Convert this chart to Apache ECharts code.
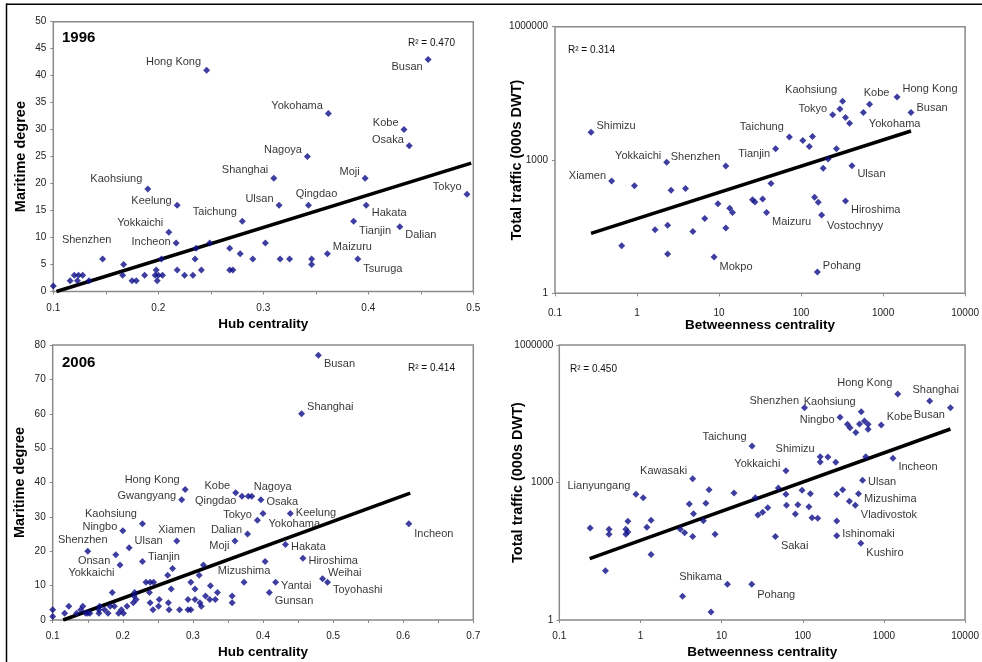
<!DOCTYPE html>
<html>
<head>
<meta charset="utf-8">
<script src="https://cdn.jsdelivr.net/npm/echarts@6/dist/echarts.min.js"></script>
<style>
html,body{margin:0;padding:0;background:#fff;}
#chart{width:982px;height:662px;}
</style>
</head>
<body>
<div id="chart"></div>
<script>
// ---------- Panel 1: 1996, Hub centrality vs Maritime degree ----------
const p1Names = ['Hong Kong','Busan','Yokohama','Kobe','Osaka','Nagoya','Shanghai','Moji','Kaohsiung','Keelung','Tokyo','Ulsan','Qingdao','Taichung','Hakata','Yokkaichi','Tianjin','Incheon','Dalian','Shenzhen','Maizuru','Tsuruga'];
const p1X = [0.246,0.457,0.362,0.434,0.439,0.342,0.310,0.397,0.190,0.218,0.494,0.315,0.343,0.280,0.398,0.210,0.386,0.217,0.430,0.147,0.361,0.390];
const p1Y = [41,43,33,30,27,25,21,21,19,16,18,16,16,13,16,11,13,9,12,6,7,6];
const p1OtherX = [0.100,0.116,0.120,0.124,0.123,0.128,0.134,0.167,0.166,0.175,0.179,0.187,0.197,0.200,0.204,0.199,0.198,0.203,0.218,0.225,0.233,0.235,0.241,0.236,0.249,0.268,0.271,0.268,0.278,0.290,0.302,0.316,0.325,0.346,0.346];
const p1OtherY = [1,2,3,3,2,3,2,5,3,2,2,3,3,3,3,2,4,6,4,3,3,6,4,8,9,4,4,8,7,6,9,6,6,6,5];
const p1TrendX = [0.103,0.498];
const p1TrendY = [0,23.8];
const p1R2 = 'R² = 0.470';
const p1Year = '1996';

// ---------- Panel 2: 1996, Betweenness centrality vs Total traffic ----------
const p2Names = ['Shimizu','Xiamen','Yokkaichi','Shenzhen','Mokpo','Kaohsiung','Tokyo','Kobe','Hong Kong','Busan','Yokohama','Taichung','Tianjin','Ulsan','Maizuru','Hiroshima','Vostochnyy','Pohang'];
const p2X = [0.275,0.49,2.3,12.1,8.7,321,243,684,1480,2190,575,72,49,417,38,348,178,158];
const p2Y = [4200,337,890,735,6.6,21000,10500,17900,26300,11700,11700,3300,1780,745,66,120,58,3.0];
const p2OtherX = [0.93,2.6,3.9,9.7,13.5,14.6,6.7,1.66,2.36,4.8,12.1,0.65,2.36,298,348,390,105,138,126,270,214,186,43,25.6,27.4,34,146,162];
const p2OtherY = [265,208,229,104,82,66,48,27,34,24.5,29.5,11.8,7.7,14000,9100,6700,2740,3370,2000,1780,1050,650,295,128,114,133,145,112];
const p2TrendX = [0.275,2190];
const p2TrendY = [22.4,4500];
const p2R2 = 'R² = 0.314';

// ---------- Panel 3: 2006, Hub centrality vs Maritime degree ----------
const p3Names = ['Busan','Shanghai','Hong Kong','Gwangyang','Kobe','Nagoya','Qingdao','Osaka','Tokyo','Yokohama','Keelung','Dalian','Moji','Xiamen','Kaohsiung','Ningbo','Ulsan','Shenzhen','Onsan','Yokkaichi','Tianjin','Mizushima','Hakata','Hiroshima','Weihai','Toyohashi','Yantai','Gunsan','Incheon'];
const p3X = [0.479,0.455,0.289,0.284,0.361,0.379,0.370,0.397,0.392,0.400,0.439,0.378,0.360,0.277,0.228,0.200,0.209,0.150,0.190,0.196,0.228,0.373,0.432,0.457,0.485,0.492,0.418,0.409,0.608];
const p3Y = [77,60,38,35,37,36,36,35,29,31,31,25,23,23,28,26,21,20,19,16,17,11,22,18,12,11,11,8,28];
const p3OtherX = [0.100,0.100,0.117,0.123,0.134,0.140,0.143,0.147,0.150,0.153,0.166,0.166,0.167,0.174,0.179,0.182,0.185,0.188,0.194,0.198,0.201,0.206,0.215,0.216,0.217,0.219,0.233,0.239,0.238,0.244,0.239,0.243,0.252,0.251,0.264,0.271,0.269,0.265,0.266,0.281,0.293,0.297,0.303,0.293,0.297,0.303,0.309,0.310,0.312,0.315,0.318,0.325,0.324,0.332,0.335,0.356,0.356,0.384,0.403];
const p3OtherY = [3,1,2,4,2,3,4,2,2,2,3,2,4,3,2,4,8,4,2,3,2,4,5,7,8,6,11,11,8,11,5,3,6,4,13,15,9,5,3,3,6,11,9,3,3,6,13,5,4,16,7,10,6,6,8,7,5,36,17];
const p3TrendX = [0.115,0.610];
const p3TrendY = [0,36.9];
const p3R2 = 'R² = 0.414';
const p3Year = '2006';

// ---------- Panel 4: 2006, Betweenness centrality vs Total traffic ----------
const p4Names = ['Hong Kong','Shanghai','Busan','Shenzhen','Kaohsiung','Ningbo','Kobe','Taichung','Shimizu','Incheon','Yokkaichi','Kawasaki','Lianyungang','Ulsan','Mizushima','Vladivostok','Ishinomaki','Kushiro','Sakai','Shikama','Pohang'];
const p4X = [1480,3660,6600,105,525,288,927,23.7,164,1290,62,4.4,0.88,545,486,444,262,519,46,11.8,23.5];
const p4Y = [85500,60000,43000,43000,35100,26400,18000,6250,3660,3370,1810,1212,552,1115,570,318,69,47,66,6.0,6.0];
const p4OtherX = [0.24,0.37,0.41,0.41,0.66,0.66,0.70,0.70,1.08,1.2,1.35,1.35,4.0,4.5,3.1,3.5,4.4,5.96,6.4,7.0,8.3,14.2,3.3,7.4,355,382,500,450,575,638,638,204,164,255,597,50,26,62,98,124,310,262,375,63,87,119,81,37,32,28,130,153,262];
const p4OtherY = [102,11.9,95,74,95,74,142,83,467,105,151,27,340,209,95,80,66,147,351,698,74,590,3.3,1.5,18600,15700,18900,12400,22000,18600,14500,3600,2800,2750,3660,760,467,552,676,570,698,552,388,318,328,297,206,282,223,195,171,165,145];
const p4TrendX = [0.237,6600];
const p4TrendY = [21.8,14700];
const p4R2 = 'R² = 0.450';

// ---------- axis texts ----------
const hubTitle = 'Hub centrality';
const betTitle = 'Betweenness centrality';
const degTitle = 'Maritime degree';
const trafTitle = 'Total traffic (000s DWT)';

// ---------- label placement (style only) ----------
const p1Place = {'Hong Kong':['left',0,-8],Busan:['left',0,7],Yokohama:['left',0,-7],Kobe:['left',0,-7],Osaka:['left',0,-6],Nagoya:['left',0,-7],Shanghai:['left',0,-8],Moji:['left',0,-6],Kaohsiung:['left',0,-10],Keelung:['left',0,-4],Tokyo:['left',0,-7],Ulsan:['left',0,-6],Qingdao:['top',8,0],Taichung:['left',0,-9],Hakata:['right',0,8],Yokkaichi:['left',0,-9],Tianjin:['right',0,10],Incheon:['left',0,-1],Dalian:['right',0,8],Shenzhen:['top',-16,-8],Maizuru:['right',0,-7],Tsuruga:['right',0,10]};
const p2Place = {Shimizu:['right',0,-6],Xiamen:['left',0,-5],Yokkaichi:['left',0,-6],Shenzhen:['left',0,-9],Mokpo:['right',0,10],Kaohsiung:['left',0,-11],Tokyo:['left',0,-6],Kobe:['top',7,0],'Hong Kong':['right',0,-8],Busan:['right',0,-5],Yokohama:['right',0,11],Taichung:['left',0,-10],Tianjin:['left',0,5],Ulsan:['right',0,8],Maizuru:['right',0,10],Hiroshima:['right',0,9],Vostochnyy:['right',0,11],Pohang:['right',0,-6]};
const p3Place = {Busan:['right',0,9],Shanghai:['right',0,-7],'Hong Kong':['left',0,-9],Gwangyang:['left',0,-4],Kobe:['left',0,-7],Nagoya:['right',0,-9],Qingdao:['left',0,5],Osaka:['right',0,2],Tokyo:['left',0,-5],Yokohama:['right',0,11],Keelung:['right',0,0],Dalian:['left',0,-4],Moji:['left',0,5],Xiamen:['top',0,0],Kaohsiung:['left',0,-10],Ningbo:['left',0,-4],Ulsan:['right',0,-7],Shenzhen:['top',-5,0],Onsan:['left',0,6],Yokkaichi:['left',0,8],Tianjin:['right',0,-5],Mizushima:['top',0,0],Hakata:['right',0,3],Hiroshima:['right',0,3],Weihai:['right',0,-6],Toyohashi:['right',0,8],Yantai:['right',0,4],Gunsan:['right',0,8],Incheon:['right',0,10]};
const p4Place = {Lianyungang:['left',0,-8],Kawasaki:['left',0,-8],Shikama:['left',0,-7],Taichung:['left',0,-9],Yokkaichi:['left',0,-7],Shimizu:['left',0,-8],Shenzhen:['left',0,-7],Kaohsiung:['left',0,-10],Ningbo:['left',0,3],'Hong Kong':['left',0,-11],Shanghai:['top',6,0],Busan:['left',0,7],Kobe:['right',0,-8],Incheon:['right',0,9],Ulsan:['right',0,2],Mizushima:['right',0,5],Vladivostok:['right',0,10],Ishinomaki:['right',0,-2],Kushiro:['right',0,10],Sakai:['right',0,9],Pohang:['right',0,11]};

const FONT = '"Liberation Sans", Arial, sans-serif';
const DOT = '#0e0e88';
const FRAME = '#8a8a8a';

function labeled(names, xs, ys, place) {
  return names.map(function (n, i) {
    const p = place[n] || ['right', 0, 0];
    return { name: n, value: [xs[i], ys[i]], label: { show: true, position: p[0], offset: [p[1], p[2]], distance: 2 } };
  });
}
function pts(xs, ys) { return xs.map(function (x, i) { return [x, ys[i]]; }); }

function fmt(v) { return String(+Number(v).toPrecision(6)); }

function valueX(idx, min, max, interval, title, gap, margin) {
  return { type: 'value', gridIndex: idx, min: min, max: max, interval: interval,
    name: title, nameLocation: 'middle', nameGap: gap, nameMoveOverlap: false,
    nameTextStyle: { fontFamily: FONT, fontWeight: 'bold', fontSize: 13.5, color: '#000' },
    axisLine: { show: false }, splitLine: { show: false },
    axisTick: { show: true, length: 3, lineStyle: { color: FRAME } },
    minorTick: { show: true, splitNumber: 2, length: 3, lineStyle: { color: FRAME } },
    axisLabel: { fontFamily: FONT, fontSize: 10, color: '#222', margin: margin, formatter: fmt } };
}
function valueY(idx, min, max, interval, title, gap) {
  return { type: 'value', gridIndex: idx, min: min, max: max, interval: interval,
    name: title, nameLocation: 'middle', nameGap: gap, nameMoveOverlap: false,
    nameTextStyle: { fontFamily: FONT, fontWeight: 'bold', fontSize: 14.5, color: '#000' },
    axisLine: { show: false }, splitLine: { show: false },
    axisTick: { show: true, length: 3, lineStyle: { color: FRAME } },
    axisLabel: { fontFamily: FONT, fontSize: 10, color: '#222', margin: 7, formatter: fmt } };
}
function logX(idx, title, gap, margin) {
  return { type: 'log', logBase: 10, gridIndex: idx, min: 0.1, max: 10000,
    name: title, nameLocation: 'middle', nameGap: gap, nameMoveOverlap: false,
    nameTextStyle: { fontFamily: FONT, fontWeight: 'bold', fontSize: 13.5, color: '#000' },
    axisLine: { show: false }, splitLine: { show: false },
    axisTick: { show: true, length: 3, lineStyle: { color: FRAME } },
    axisLabel: { fontFamily: FONT, fontSize: 10, color: '#222', margin: margin, formatter: fmt } };
}
function logY(idx, title, gap, margin) {
  return { type: 'log', logBase: 1000, gridIndex: idx, min: 1, max: 1000000,
    name: title, nameLocation: 'middle', nameGap: gap, nameMoveOverlap: false,
    nameTextStyle: { fontFamily: FONT, fontWeight: 'bold', fontSize: 14.5, color: '#000' },
    axisLine: { show: false }, splitLine: { show: false },
    axisTick: { show: true, length: 3, lineStyle: { color: FRAME } },
    axisLabel: { fontFamily: FONT, fontSize: 10, color: '#222', margin: margin, formatter: fmt } };
}

function panelSeries(idx, names, xs, ys, place, ox, oy, tx, ty) {
  const base = { xAxisIndex: idx, yAxisIndex: idx };
  return [
    Object.assign({ type: 'line', data: pts(tx, ty), symbol: 'none', silent: true, z: 2,
      lineStyle: { color: '#000', width: 3.5 } }, base),
    Object.assign({ type: 'scatter', data: pts(ox, oy), symbol: 'diamond', symbolSize: 7, z: 3,
      itemStyle: { color: DOT } }, base),
    Object.assign({ type: 'scatter', data: labeled(names, xs, ys, place), symbol: 'diamond', symbolSize: 7, z: 4,
      itemStyle: { color: DOT },
      label: { show: true, formatter: '{b}', fontFamily: FONT, fontSize: 11, color: '#000' } }, base)
  ];
}

const gridStyle = { show: true, borderColor: FRAME, borderWidth: 1.5, containLabel: false };

const option = {
  animation: false,
  backgroundColor: '#fff',
  textStyle: { fontFamily: FONT },
  grid: [
    Object.assign({ left: 53.3, top: 21.7, width: 420, height: 269.8 }, gridStyle),
    Object.assign({ left: 555, top: 26.7, width: 413.5, height: 266.6 }, gridStyle),
    Object.assign({ left: 52.7, top: 345, width: 420.6, height: 275 }, gridStyle),
    Object.assign({ left: 559.3, top: 345, width: 410, height: 275 }, gridStyle)
  ],
  xAxis: [
    valueX(0, 0.1, 0.5, 0.1, hubTitle, 26, 12),
    logX(1, betTitle, 25, 15),
    valueX(2, 0.1, 0.7, 0.1, hubTitle, 25, 11),
    logX(3, betTitle, 25, 11)
  ],
  yAxis: [
    valueY(0, 0, 50, 5, degTitle, 25),
    logY(1, trafTitle, 31, 7),
    valueY(2, 0, 80, 10, degTitle, 25),
    logY(3, trafTitle, 34, 6)
  ],
  series: [].concat(
    panelSeries(0, p1Names, p1X, p1Y, p1Place, p1OtherX, p1OtherY, p1TrendX, p1TrendY),
    panelSeries(1, p2Names, p2X, p2Y, p2Place, p2OtherX, p2OtherY, p2TrendX, p2TrendY),
    panelSeries(2, p3Names, p3X, p3Y, p3Place, p3OtherX, p3OtherY, p3TrendX, p3TrendY),
    panelSeries(3, p4Names, p4X, p4Y, p4Place, p4OtherX, p4OtherY, p4TrendX, p4TrendY)
  ),
  graphic: [
    { type: 'line', shape: { x1: 6.5, y1: 3.5, x2: 6.5, y2: 662 }, style: { stroke: '#000', lineWidth: 1.5 }, silent: true },
    { type: 'line', shape: { x1: 6, y1: 4.3, x2: 982, y2: 4.3 }, style: { stroke: '#000', lineWidth: 1.5 }, silent: true },
    { type: 'text', x: 62, y: 37.5, style: { text: p1Year, font: 'bold 15px ' + FONT, fill: '#000', align: 'left', verticalAlign: 'middle' }, silent: true },
    { type: 'text', x: 62, y: 362.5, style: { text: p3Year, font: 'bold 15px ' + FONT, fill: '#000', align: 'left', verticalAlign: 'middle' }, silent: true },
    { type: 'text', x: 408, y: 43.5, style: { text: p1R2, font: '10px ' + FONT, fill: '#111', align: 'left', verticalAlign: 'middle' }, silent: true },
    { type: 'text', x: 568, y: 50, style: { text: p2R2, font: '10px ' + FONT, fill: '#111', align: 'left', verticalAlign: 'middle' }, silent: true },
    { type: 'text', x: 408, y: 368.5, style: { text: p3R2, font: '10px ' + FONT, fill: '#111', align: 'left', verticalAlign: 'middle' }, silent: true },
    { type: 'text', x: 570, y: 369.5, style: { text: p4R2, font: '10px ' + FONT, fill: '#111', align: 'left', verticalAlign: 'middle' }, silent: true }
  ]
};

const chart = echarts.init(document.getElementById('chart'), null, { renderer: 'canvas' });
chart.setOption(option);
</script>
</body>
</html>
